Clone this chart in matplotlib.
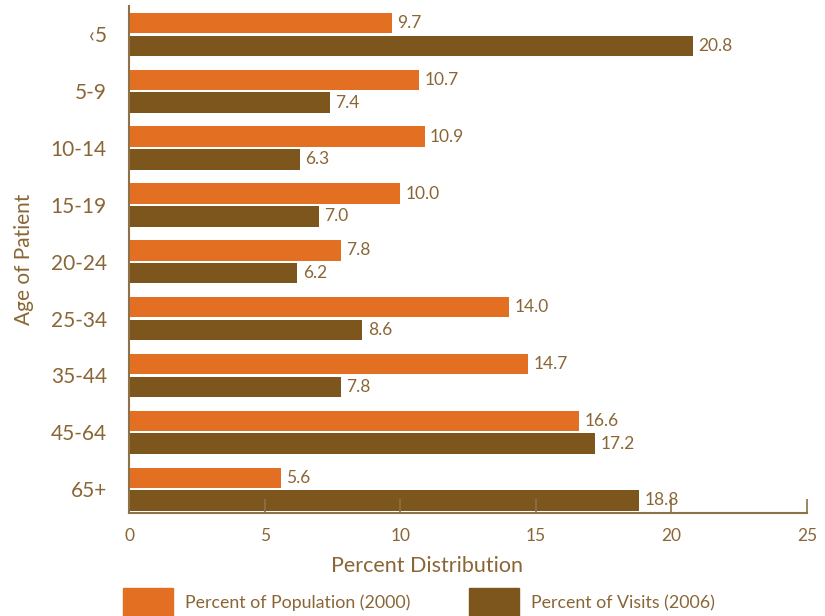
import numpy as np
import matplotlib
matplotlib.use('Agg')
import matplotlib.pyplot as plt
from matplotlib.patches import Rectangle

# data
ages = ['<5', '5-9', '10-14', '15-19', '20-24', '25-34', '35-44', '45-64', '65+']
population = [9.7, 10.7, 10.9, 10.0, 7.8, 14.0, 14.7, 16.6, 5.6]
visits = [20.8, 7.4, 6.3, 7.0, 6.2, 8.6, 7.8, 17.2, 18.8]
xticks = [0, 5, 10, 15, 20, 25]

orange = '#E37022'
brown = '#7D561D'
txt = '#8A6636'
axcol = '#8F7148'

plt.rcParams['font.family'] = ['Lato', 'DejaVu Sans']

fig = plt.figure(figsize=(8.25, 6.16), dpi=100)
ax = fig.add_axes([0.1564, 0.1672, 0.8216, 0.8231])

y = np.arange(len(ages))
b1 = ax.barh(y - 0.2, population, height=0.36, color=orange)
b2 = ax.barh(y + 0.2, visits, height=0.36, color=brown)
ax.bar_label(b1, labels=['%.1f' % v for v in population], padding=4, fontsize=12.5, color=txt)
ax.bar_label(b2, labels=['%.1f' % v for v in visits], padding=4, fontsize=12.5, color=txt)

ax.set_ylim(8.42, -0.5)
ax.set_xlim(0, 25)
ax.set_yticks(y)
ax.set_yticklabels(['\u20395' if a == '<5' else a for a in ages], fontsize=15, color=txt)
ax.set_xticks(xticks)
ax.set_xticklabels([str(t) for t in xticks], fontsize=12.5, color=txt)
ax.tick_params(axis='y', length=0, pad=16)
ax.tick_params(axis='x', direction='in', length=10, width=1.2, color=axcol, pad=11)

for s in ['top', 'right']:
    ax.spines[s].set_visible(False)
for s in ['left', 'bottom']:
    ax.spines[s].set_color(axcol)
    ax.spines[s].set_linewidth(1.5)

ax.set_xlabel('Percent Distribution', fontsize=15.5, color=txt)
ax.xaxis.set_label_coords(0.44, -0.085)
ax.set_ylabel('Age of Patient', fontsize=15, color=txt, labelpad=12)

# legend at the bottom
fig.add_artist(Rectangle((123/825, 0), 50/825, 28/616, color=orange, transform=fig.transFigure))
fig.text(185/825, 13/616, 'Percent of Population (2000)', fontsize=12.8, color=txt, va='center')
fig.add_artist(Rectangle((469/825, 0), 50/825, 28/616, color=brown, transform=fig.transFigure))
fig.text(531/825, 13/616, 'Percent of Visits (2006)', fontsize=12.8, color=txt, va='center')

fig.savefig('out.png', dpi=100)
